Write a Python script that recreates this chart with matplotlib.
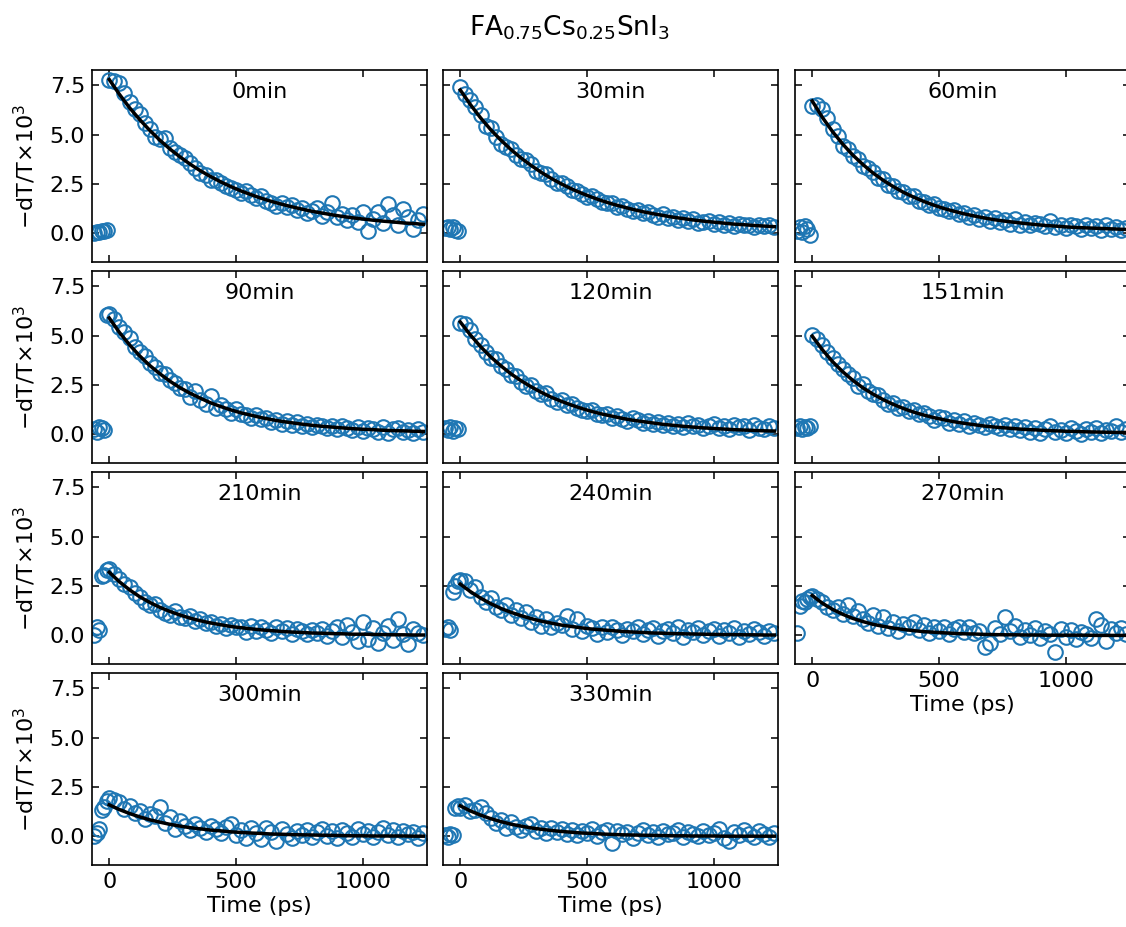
import matplotlib
matplotlib.use("Agg")
import matplotlib.pyplot as plt

plt.rcParams.update({'font.size': 16, 'font.family': 'DejaVu Sans'})

# pump-probe delay (ps)
delay = [-60, -50, -40, -30, -20, -10,
         0, 20, 40, 60, 80, 100, 120, 140, 160, 180,
         200, 220, 240, 260, 280, 300, 320, 340, 360, 380,
         400, 420, 440, 460, 480, 500, 520, 540, 560, 580,
         600, 620, 640, 660, 680, 700, 720, 740, 760, 780,
         800, 820, 840, 860, 880, 900, 920, 940, 960, 980,
         1000, 1020, 1040, 1060, 1080, 1100, 1120, 1140, 1160, 1180,
         1200, 1220, 1240]

# time axis of the fitted decay (ps)
fit_time = [0, 40, 80, 120, 160, 200, 240, 280, 320, 360, 400, 440, 480, 520, 560, 600,
            640, 680, 720, 760, 800, 840, 880, 920, 960, 1000, 1040, 1080, 1120, 1160, 1200, 1240]

labels = ['0min', '30min', '60min', '90min', '120min', '151min',
          '210min', '240min', '270min', '300min', '330min']

# -dT/T x 10^3, measured
sig_0min = [0.02, 0.08, 0.05, 0.12, 0.10, 0.18,
            7.75, 7.70, 7.60, 7.10, 6.65, 6.30, 6.05, 5.60, 5.30, 4.90,
            4.80, 4.85, 4.35, 4.10, 3.95, 3.80, 3.55, 3.30, 3.05, 2.95,
            2.70, 2.70, 2.55, 2.40, 2.30, 2.20, 2.05, 2.15, 1.95, 1.80,
            1.90, 1.65, 1.55, 1.40, 1.55, 1.35, 1.45, 1.20, 1.30, 1.05,
            1.15, 1.30, 0.90, 1.10, 1.55, 0.85, 1.00, 0.70, 0.95, 0.60,
            1.10, 0.10, 0.75, 1.10, 0.55, 1.50, 0.95, 0.45, 1.25, 0.85,
            0.20, 0.70, 1.00]
sig_30min = [0.25, 0.30, 0.20, 0.30, 0.15, 0.10,
             7.40, 7.05, 6.75, 6.40, 6.00, 5.45, 5.35, 4.90, 4.55, 4.40,
             4.30, 3.95, 3.75, 3.70, 3.50, 3.15, 3.05, 3.00, 2.75, 2.55,
             2.55, 2.40, 2.20, 2.15, 2.00, 1.85, 1.90, 1.75, 1.60, 1.55,
             1.55, 1.35, 1.40, 1.25, 1.15, 1.20, 1.05, 1.10, 0.95, 0.85,
             1.00, 0.80, 0.85, 0.70, 0.80, 0.65, 0.75, 0.55, 0.60, 0.65,
             0.50, 0.60, 0.45, 0.55, 0.35, 0.50, 0.40, 0.45, 0.30, 0.45,
             0.35, 0.40, 0.30]
sig_60min = [0.10, 0.30, 0.05, 0.35, 0.20, -0.10,
             6.45, 6.50, 6.30, 5.85, 5.30, 4.95, 4.45, 4.30, 3.90, 3.75,
             3.40, 3.30, 3.10, 2.80, 2.75, 2.45, 2.40, 2.15, 2.10, 1.90,
             1.90, 1.65, 1.60, 1.45, 1.50, 1.30, 1.25, 1.15, 1.20, 1.00,
             1.05, 0.85, 0.95, 0.75, 0.85, 0.65, 0.80, 0.60, 0.70, 0.50,
             0.75, 0.45, 0.60, 0.40, 0.55, 0.50, 0.35, 0.65, 0.30, 0.45,
             0.25, 0.40, 0.35, 0.20, 0.45, 0.25, 0.35, 0.15, 0.40, 0.20,
             0.30, 0.15, 0.25]
sig_90min = [0.25, 0.10, 0.35, 0.30, 0.20, 6.05,
             6.10, 5.85, 5.45, 5.20, 4.90, 4.45, 4.20, 3.95, 3.60, 3.40,
             3.10, 3.05, 2.75, 2.60, 2.35, 2.30, 1.90, 2.20, 1.75, 1.55,
             1.95, 1.35, 1.50, 1.30, 1.10, 1.30, 1.05, 1.00, 0.85, 1.00,
             0.80, 0.85, 0.65, 0.75, 0.55, 0.70, 0.50, 0.65, 0.45, 0.55,
             0.35, 0.50, 0.40, 0.30, 0.45, 0.25, 0.40, 0.30, 0.20, 0.35,
             0.15, 0.30, 0.25, 0.10, 0.35, 0.05, 0.25, 0.30, 0.10, 0.20,
             0.05, 0.25, 0.10]
sig_120min = [0.30, 0.20, 0.35, 0.15, 0.30, 0.25,
              5.65, 5.60, 5.30, 4.85, 4.55, 4.20, 3.85, 3.80, 3.45, 3.30,
              3.00, 2.95, 2.65, 2.45, 2.50, 2.20, 2.05, 2.10, 1.80, 1.65,
              1.75, 1.50, 1.55, 1.35, 1.25, 1.20, 1.25, 1.05, 1.00, 1.05,
              0.85, 0.95, 0.80, 0.70, 0.85, 0.75, 0.60, 0.70, 0.55, 0.65,
              0.50, 0.60, 0.45, 0.55, 0.35, 0.60, 0.40, 0.50, 0.30, 0.45,
              0.55, 0.30, 0.45, 0.25, 0.50, 0.35, 0.40, 0.20, 0.50, 0.30,
              0.25, 0.45, 0.30]
sig_151min = [0.30, 0.40, 0.25, 0.35, 0.30, 0.40,
              5.05, 4.85, 4.55, 4.20, 3.85, 3.55, 3.30, 3.05, 2.85, 2.45,
              2.55, 2.20, 2.05, 2.00, 1.75, 1.55, 1.60, 1.35, 1.40, 1.20,
              1.25, 1.05, 1.10, 0.95, 0.75, 0.90, 0.85, 0.60, 0.75, 0.55,
              0.70, 0.45, 0.60, 0.50, 0.35, 0.55, 0.40, 0.30, 0.50, 0.25,
              0.45, 0.20, 0.35, 0.10, 0.30, 0.05, 0.25, 0.40, 0.10, 0.20,
              0.05, 0.30, 0.15, 0.00, 0.25, 0.10, 0.30, 0.05, 0.20, 0.15,
              0.40, 0.10, 0.25]
sig_210min = [0.00, 0.45, 0.25, 3.00, 3.05, 3.30,
              3.35, 3.10, 2.85, 2.60, 2.45, 2.15, 1.95, 1.70, 1.55, 1.60,
              1.30, 1.15, 1.05, 1.25, 0.95, 0.90, 1.00, 0.75, 0.85, 0.65,
              0.70, 0.50, 0.60, 0.35, 0.55, 0.45, 0.40, 0.15, 0.50, 0.20,
              0.40, 0.25, 0.10, 0.45, 0.20, 0.35, 0.05, 0.30, 0.20, 0.05,
              0.25, 0.10, 0.30, -0.05, 0.20, 0.40, -0.10, 0.55, 0.15, -0.30,
              0.70, -0.20, 0.35, -0.40, 0.10, 0.50, -0.25, 0.85, 0.05, -0.45,
              0.30, 0.10, 0.00]
sig_240min = [0.30, 0.40, 0.25, 2.20, 2.50, 2.75,
              2.80, 2.75, 2.30, 2.45, 1.95, 1.70, 1.90, 1.45, 1.30, 1.55,
              1.05, 1.30, 0.90, 1.20, 0.70, 0.95, 0.50, 0.85, 0.40, 0.65,
              0.55, 1.00, 0.30, 0.85, 0.20, 0.50, 0.35, 0.05, 0.40, 0.15,
              0.45, 0.25, 0.00, 0.30, 0.20, 0.40, 0.05, 0.25, 0.35, -0.05,
              0.20, 0.30, 0.10, 0.40, -0.10, 0.25, 0.15, 0.35, 0.00, 0.20,
              0.30, -0.05, 0.25, 0.10, 0.35, -0.10, 0.20, 0.05, 0.30, 0.15,
              -0.05, 0.20, 0.10]
sig_270min = [0.10, 1.50, 1.75, 1.70, 1.85, 1.95,
              2.00, 1.85, 1.70, 1.45, 1.30, 1.45, 1.10, 1.55, 1.00, 1.25,
              0.85, 0.65, 1.05, 0.50, 0.95, 0.35, 0.70, 0.20, 0.60, 0.45,
              0.70, 0.25, 0.55, 0.10, 0.40, 0.20, 0.45, 0.05, 0.30, 0.45,
              0.15, 0.40, 0.10, 0.20, -0.60, -0.40, 0.35, 0.05, 0.95, 0.20,
              0.50, -0.10, 0.25, 0.00, 0.35, -0.15, 0.20, 0.05, -0.85, 0.30,
              -0.10, 0.25, -0.20, 0.15, 0.05, -0.15, 0.85, 0.55, -0.30, 0.30,
              0.10, 0.35, 0.05]
sig_300min = [0.00, 0.15, 0.35, 1.35, 1.50, 1.80,
              1.95, 1.85, 1.75, 1.40, 1.55, 1.20, 1.30, 0.90, 1.15, 1.05,
              1.50, 0.70, 1.00, 0.35, 0.80, 0.55, 0.30, 0.65, 0.45, 0.20,
              0.55, 0.35, 0.15, 0.50, 0.65, 0.05, 0.30, -0.10, 0.45, 0.15,
              -0.15, 0.40, 0.20, -0.25, 0.35, 0.10, -0.10, 0.25, 0.05, 0.30,
              -0.05, 0.20, 0.35, 0.00, 0.25, -0.10, 0.30, 0.15, -0.05, 0.35,
              0.10, 0.25, -0.05, 0.20, 0.45, 0.05, 0.30, -0.05, 0.25, 0.10,
              0.20, -0.10, 0.15]
sig_330min = [0.05, -0.05, 0.10, 0.05, 1.45, 1.55,
              1.45, 1.60, 1.30, 1.35, 1.50, 1.20, 0.95, 0.70, 0.85, 0.45,
              0.75, 0.50, 0.30, 0.55, 0.65, 0.25, 0.45, 0.15, 0.40, 0.20,
              0.35, 0.10, 0.30, 0.05, 0.25, 0.15, 0.35, 0.00, 0.20, 0.30,
              -0.35, 0.25, 0.10, 0.20, -0.10, 0.15, 0.30, 0.05, 0.20, -0.05,
              0.25, 0.10, 0.15, 0.30, -0.05, 0.20, 0.10, 0.00, 0.25, 0.05,
              0.15, 0.35, -0.10, -0.25, 0.20, 0.05, 0.30, 0.10, -0.05, 0.25,
              0.10, -0.05, 0.15]

# fitted mono-exponential decays
fit_0min = [7.80, 7.05, 6.37, 5.77, 5.22, 4.72, 4.27, 3.87, 3.50, 3.17, 2.88, 2.61, 2.37, 2.15, 1.96, 1.78,
            1.62, 1.48, 1.35, 1.23, 1.12, 1.03, 0.94, 0.86, 0.79, 0.73, 0.67, 0.62, 0.58, 0.53, 0.50, 0.46]
fit_30min = [7.27, 6.53, 5.86, 5.26, 4.73, 4.25, 3.82, 3.44, 3.09, 2.78, 2.50, 2.25, 2.03, 1.83, 1.65, 1.49,
             1.35, 1.22, 1.10, 1.00, 0.91, 0.82, 0.75, 0.68, 0.62, 0.57, 0.52, 0.47, 0.44, 0.40, 0.37, 0.34]
fit_60min = [6.71, 5.88, 5.16, 4.53, 3.97, 3.49, 3.06, 2.69, 2.37, 2.08, 1.84, 1.62, 1.43, 1.26, 1.12, 0.99,
             0.88, 0.78, 0.69, 0.62, 0.56, 0.50, 0.45, 0.40, 0.37, 0.33, 0.30, 0.28, 0.26, 0.24, 0.22, 0.20]
fit_90min = [5.90, 5.17, 4.54, 3.98, 3.49, 3.07, 2.69, 2.36, 2.08, 1.83, 1.60, 1.41, 1.24, 1.09, 0.97, 0.85,
             0.75, 0.66, 0.59, 0.52, 0.46, 0.41, 0.37, 0.33, 0.29, 0.26, 0.24, 0.21, 0.19, 0.18, 0.16, 0.15]
fit_120min = [5.70, 5.04, 4.45, 3.93, 3.48, 3.07, 2.72, 2.41, 2.13, 1.88, 1.67, 1.48, 1.31, 1.16, 1.03, 0.92,
              0.81, 0.72, 0.65, 0.58, 0.51, 0.46, 0.41, 0.37, 0.33, 0.30, 0.27, 0.24, 0.22, 0.20, 0.18, 0.17]
fit_151min = [4.98, 4.29, 3.69, 3.18, 2.74, 2.36, 2.04, 1.76, 1.52, 1.31, 1.13, 0.98, 0.85, 0.74, 0.64, 0.56,
              0.49, 0.42, 0.37, 0.33, 0.29, 0.25, 0.23, 0.20, 0.18, 0.16, 0.15, 0.13, 0.12, 0.11, 0.10, 0.10]
fit_210min = [3.20, 2.72, 2.31, 1.96, 1.67, 1.42, 1.21, 1.03, 0.87, 0.74, 0.63, 0.54, 0.45, 0.39, 0.33, 0.28,
              0.24, 0.20, 0.17, 0.15, 0.12, 0.11, 0.09, 0.08, 0.06, 0.06, 0.05, 0.04, 0.03, 0.03, 0.02, 0.02]
fit_240min = [2.60, 2.22, 1.89, 1.61, 1.37, 1.17, 1.00, 0.85, 0.72, 0.62, 0.52, 0.45, 0.38, 0.32, 0.28, 0.24,
              0.20, 0.17, 0.15, 0.12, 0.11, 0.09, 0.08, 0.07, 0.06, 0.05, 0.04, 0.04, 0.03, 0.03, 0.02, 0.02]
fit_270min = [2.02, 1.63, 1.32, 1.07, 0.86, 0.70, 0.56, 0.46, 0.37, 0.30, 0.24, 0.19, 0.16, 0.13, 0.10, 0.08,
              0.07, 0.05, 0.04, 0.03, 0.03, 0.02, 0.02, 0.01, 0.01, 0.01, 0.01, 0.01, 0.00, 0.00, 0.00, 0.00]
fit_300min = [1.60, 1.36, 1.16, 0.99, 0.84, 0.72, 0.61, 0.52, 0.44, 0.38, 0.32, 0.28, 0.23, 0.20, 0.17, 0.15,
              0.12, 0.11, 0.09, 0.08, 0.07, 0.06, 0.05, 0.04, 0.03, 0.03, 0.02, 0.02, 0.02, 0.02, 0.01, 0.01]
fit_330min = [1.55, 1.29, 1.08, 0.90, 0.75, 0.62, 0.52, 0.43, 0.36, 0.30, 0.25, 0.21, 0.17, 0.15, 0.12, 0.10,
              0.08, 0.07, 0.06, 0.05, 0.04, 0.03, 0.03, 0.02, 0.02, 0.02, 0.01, 0.01, 0.01, 0.01, 0.01, 0.01]

signals = [sig_0min, sig_30min, sig_60min, sig_90min, sig_120min, sig_151min,
           sig_210min, sig_240min, sig_270min, sig_300min, sig_330min]
fits = [fit_0min, fit_30min, fit_60min, fit_90min, fit_120min, fit_151min,
        fit_210min, fit_240min, fit_270min, fit_300min, fit_330min]

W, H = 1126, 927
fig = plt.figure(figsize=(W / 100, H / 100), dpi=100)

# panel grid in pixels (the third column runs slightly past the right edge)
col_left = [92, 443, 795]
row_top = [70, 271, 472, 673]
ax_w, ax_h = 335, 192

for i, (lab, sig, fit) in enumerate(zip(labels, signals, fits)):
    r, c = divmod(i, 3)
    ax = fig.add_axes([col_left[c] / W, 1 - (row_top[r] + ax_h) / H, ax_w / W, ax_h / H])
    ax.plot(delay, sig, 'o', mfc='none', mec='#1f77b4', ms=10.5, mew=1.5)
    ax.plot(fit_time, fit, '-', color='k', lw=2.5)
    ax.set_xlim(-68, 1254)
    ax.set_ylim(-1.45, 8.28)
    ax.set_xticks([0, 500, 1000])
    ax.set_yticks([0, 2.5, 5.0, 7.5])
    ax.tick_params(direction='in', top=True, right=True, length=5, width=1.1,
                   labelsize=16, pad=5)
    for s in ax.spines.values():
        s.set_linewidth(1.2)
    ax.text(0.5, 0.885, lab, transform=ax.transAxes, ha='center', va='center', fontsize=16)
    if c == 0:
        ax.set_ylabel(r'$-$dT/T$\times$10$^3$', fontsize=16)
        ax.yaxis.set_label_coords(-0.16, 0.5)
    else:
        ax.set_yticklabels([])
    # bottom row, plus the 270min panel that has nothing below it
    if r == 3 or i == 8:
        ax.set_xlabel('Time (ps)', fontsize=16, labelpad=3)
    else:
        ax.set_xticklabels([])

fig.text(569 / W, 1 - 28 / H, r'FA$_{0.75}$Cs$_{0.25}$SnI$_3$', ha='center', va='center', fontsize=19)

fig.savefig('out.png', dpi=100)
